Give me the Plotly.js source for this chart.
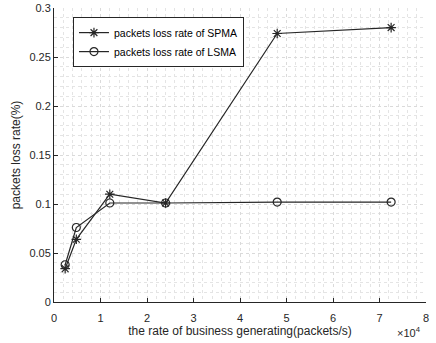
<!DOCTYPE html>
<html>
<head>
<meta charset="utf-8">
<script src="https://cdn.plot.ly/plotly-3.0.1.min.js"></script>
<style>html,body{margin:0;padding:0;background:#fff}#chart{width:436px;height:343px}</style>
</head>
<body>
<div id="chart"></div>
<script>
const rates = [2400, 4800, 12000, 24000, 48000, 72500];
const spmaLoss = [0.034, 0.064, 0.110, 0.101, 0.274, 0.280];
const lsmaLoss = [0.038, 0.076, 0.101, 0.101, 0.102, 0.102];
const xTickVals = [0, 10000, 20000, 30000, 40000, 50000, 60000, 70000, 80000];
const xTickText = ['0','1','2','3','4','5','6','7','8'];
const yTickVals = [0, 0.05, 0.1, 0.15, 0.2, 0.25, 0.3];
const yTickText = ['0','0.05','0.1','0.15','0.2','0.25','0.3'];

const lineColor = '#262626';
const traces = [
  {x: rates, y: spmaLoss, name: 'packets loss rate of SPMA', mode: 'lines+markers',
   line: {color: lineColor, width: 1.2},
   marker: {symbol: 'asterisk-open', size: 8, color: lineColor, line: {color: lineColor, width: 1.2}}},
  {x: rates, y: lsmaLoss, name: 'packets loss rate of LSMA', mode: 'lines+markers',
   line: {color: lineColor, width: 1.2},
   marker: {symbol: 'circle-open', size: 8, color: lineColor, line: {color: lineColor, width: 1.2}}}
];
const gridC = '#dadada';
const minorC = '#e4e4e4';
const layout = {
  width: 436, height: 343,
  margin: {l: 54, r: 10, t: 8, b: 41},
  paper_bgcolor: '#fff', plot_bgcolor: '#fff',
  font: {family: 'Liberation Sans, Arial, sans-serif', color: '#262626', size: 11},
  showlegend: true,
  legend: {x: 0.051, y: 0.969, xanchor: 'left', yanchor: 'top', bgcolor: '#fff',
           bordercolor: '#262626', borderwidth: 1, font: {size: 10.5, color: '#000'},
           tracegroupgap: 0, itemwidth: 30},
  xaxis: {range: [0, 80000], tickvals: xTickVals, ticktext: xTickText, ticks: 'inside', ticklen: 4,
          tickcolor: lineColor, showline: true, linecolor: lineColor, linewidth: 1, zeroline: false,
          showgrid: true, gridcolor: gridC, griddash: 'dot', gridwidth: 1, ticklabelstandoff: 6,
          minor: {dtick: 2000, showgrid: true, gridcolor: minorC, griddash: 'dot', gridwidth: 1},
          title: {text: 'the rate of business generating(packets/s)', font: {size: 12}, standoff: 2},
          tickfont: {size: 11}},
  yaxis: {range: [0, 0.3], tickvals: yTickVals, ticktext: yTickText, ticks: 'inside', ticklen: 4,
          tickcolor: lineColor, showline: true, linecolor: lineColor, linewidth: 1, zeroline: false,
          showgrid: true, gridcolor: gridC, griddash: 'dot', gridwidth: 1,
          minor: {dtick: 0.01, showgrid: true, gridcolor: minorC, griddash: 'dot', gridwidth: 1},
          title: {text: 'packets loss rate(%)', font: {size: 12}, standoff: 6},
          tickfont: {size: 11}},
  annotations: [{xref: 'paper', yref: 'paper', x: 0.955, y: -0.07, xanchor: 'center', yanchor: 'top',
                 showarrow: false, text: '×10<sup>4</sup>', font: {size: 11, color: '#262626'}}]
};
Plotly.newPlot('chart', traces, layout, {displayModeBar: false, staticPlot: true});
</script>
</body>
</html>
